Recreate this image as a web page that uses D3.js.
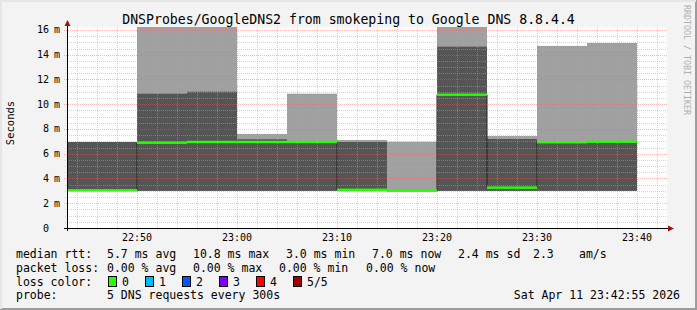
<!DOCTYPE html>
<html>
<head>
<meta charset="utf-8">
<script src="https://cdn.jsdelivr.net/npm/d3@7"></script>
<style>
  body { margin: 0; background: #f3f3f3; }
  text { font-family: "DejaVu Sans Mono", monospace; fill: #000; }
</style>
</head>
<body>
<div id="chart"></div>
<script>

//////////////////////////////////////////////////////////////
//////////////////////////// Data ////////////////////////////
//////////////////////////////////////////////////////////////

// one smokeping step = 5 minutes, 5 pings per step
var stepStarts = ["22:40", "22:45", "22:50", "22:55", "23:00", "23:05",
                  "23:10", "23:15", "23:20", "23:25", "23:30", "23:35"];
// values in ms
var minRtt    = [3.00, 3.00, 3.00, 3.00, 3.00, 3.00, 3.00, 3.00, 3.00, 3.00, 3.00, 3.00];
var innerTop  = [6.95, 6.95, 10.85, 11.01, 7.17, 6.93, 6.95, 3.03, 14.65, 7.19, 6.92, 6.97];
var maxRtt    = [6.95, 6.95, 18.00, 18.50, 7.60, 10.85, 7.11, 6.97, 17.00, 7.43, 14.71, 14.95];
var medianRtt = [3.05, 3.05, 6.89, 6.95, 6.95, 6.95, 3.09, 3.01, 10.77, 3.26, 6.93, 6.97];

var yTickValues = [0, 2, 4, 6, 8, 10, 12, 14, 16];

var lossLabels = ["0", "1", "2", "3", "4", "5/5"];
var lossColors = ["#26ff00", "#00b8ff", "#0059ff", "#7e00ff", "#ff0000", "#a10000"];

var medianStats = ["5.7 ms avg", "10.8 ms max", "3.0 ms min", "7.0 ms now", "2.4 ms sd", "2.3", "am/s"];
var lossStats = ["0.00 % avg", "0.00 % max", "0.00 % min", "0.00 % now"];

var title = "DNSProbes/GoogleDNS2 from smokeping to Google DNS 8.8.4.4";
var probeText = "5 DNS requests every 300s";
var stampText = "Sat Apr 11 23:42:55 2026";

//////////////////////////////////////////////////////////////
/////////////////////////// Setup ////////////////////////////
//////////////////////////////////////////////////////////////

var width = 697, height = 310;
var plot = { left: 67, right: 667, top: 27, bottom: 228 };

var parseTime = d3.timeParse("%H:%M");
var stepMs = 5 * 60 * 1000;

var x = d3.scaleTime()
  .domain([parseTime("22:43"), parseTime("23:43")])
  .range([plot.left, plot.right]);

var y = d3.scaleLinear()
  .domain([0, 16.24])
  .range([plot.bottom, plot.top]);

var steps = stepStarts.map(function(s, i) {
  var t = parseTime(s);
  return { t0: t, t1: new Date(+t + stepMs), lo: minRtt[i], mid: innerTop[i], hi: maxRtt[i], med: medianRtt[i] };
});

var svg = d3.select("#chart").append("svg")
  .attr("width", width)
  .attr("height", height);

//frame
svg.append("rect").attr("width", width).attr("height", height).style("fill", "#f3f3f3");
svg.append("path").attr("d", "M0,309 H697 M696,0 V310").style("stroke", "#9c9c9c").style("stroke-width", 2).style("fill", "none");
svg.append("path").attr("d", "M0,1 H696 M1,0 V309").style("stroke", "#e6e6e6").style("stroke-width", 2).style("fill", "none");

//canvas
svg.append("rect")
  .attr("x", plot.left).attr("y", plot.top)
  .attr("width", plot.right - plot.left).attr("height", plot.bottom - plot.top)
  .style("fill", "#fff");

svg.append("defs").append("clipPath").attr("id", "plot-clip")
  .append("rect")
  .attr("x", plot.left).attr("y", plot.top)
  .attr("width", plot.right - plot.left).attr("height", plot.bottom - plot.top);

var g = svg.append("g").attr("clip-path", "url(#plot-clip)");

//////////////////////////////////////////////////////////////
/////////////////////////// Smoke ////////////////////////////
//////////////////////////////////////////////////////////////

g.selectAll(".smoke-outer")
  .data(steps)
  .enter().append("rect")
  .attr("class", "smoke-outer")
  .attr("x", function(d) { return x(d.t0); })
  .attr("width", function(d) { return x(d.t1) - x(d.t0); })
  .attr("y", function(d) { return y(d.hi); })
  .attr("height", function(d) { return y(d.lo) - y(d.hi); })
  .style("fill", "#a0a0a0");

g.selectAll(".smoke-inner")
  .data(steps)
  .enter().append("rect")
  .attr("class", "smoke-inner")
  .attr("x", function(d) { return x(d.t0); })
  .attr("width", function(d) { return x(d.t1) - x(d.t0); })
  .attr("y", function(d) { return y(d.mid); })
  .attr("height", function(d) { return y(d.lo) - y(d.mid); })
  .style("fill", "#555555");

//////////////////////////////////////////////////////////////
/////////////////////////// Grid /////////////////////////////
//////////////////////////////////////////////////////////////

var xMajor = x.ticks(d3.timeMinute.every(10));
var xMinor = x.ticks(d3.timeMinute.every(2)).filter(function(d) { return d.getMinutes() % 10 !== 0; });
var yMinor = d3.range(0.5, 16.1, 0.5).filter(function(d) { return d % 2 !== 0; });
var yMajor = yTickValues.filter(function(d) { return d > 0; });

var minorGrid = "rgba(170,170,170,0.5)";
var majorGrid = "rgba(255,90,90,0.42)";

svg.selectAll(".grid-x-minor")
  .data(xMinor)
  .enter().append("line")
  .attr("class", "grid-x-minor")
  .attr("x1", function(d) { return Math.round(x(d)) + 0.5; })
  .attr("x2", function(d) { return Math.round(x(d)) + 0.5; })
  .attr("y1", plot.top).attr("y2", plot.bottom + 2)
  .style("stroke", minorGrid)
  .style("stroke-dasharray", "1,1");

svg.selectAll(".grid-y-minor")
  .data(yMinor)
  .enter().append("line")
  .attr("class", "grid-y-minor")
  .attr("x1", plot.left - 2).attr("x2", plot.right)
  .attr("y1", function(d) { return Math.round(y(d)) + 0.5; })
  .attr("y2", function(d) { return Math.round(y(d)) + 0.5; })
  .style("stroke", minorGrid)
  .style("stroke-dasharray", "1,1");

svg.selectAll(".grid-x-major")
  .data(xMajor)
  .enter().append("line")
  .attr("class", "grid-x-major")
  .attr("x1", function(d) { return Math.round(x(d)) + 0.5; })
  .attr("x2", function(d) { return Math.round(x(d)) + 0.5; })
  .attr("y1", plot.top).attr("y2", plot.bottom + 3)
  .style("stroke", majorGrid)
  .style("stroke-dasharray", "1,1");

svg.selectAll(".grid-y-major")
  .data(yMajor)
  .enter().append("line")
  .attr("class", "grid-y-major")
  .attr("x1", plot.left - 3).attr("x2", plot.right)
  .attr("y1", function(d) { return Math.round(y(d)) + 0.5; })
  .attr("y2", function(d) { return Math.round(y(d)) + 0.5; })
  .style("stroke", majorGrid)
  .style("stroke-dasharray", "1,1");

//////////////////////////////////////////////////////////////
////////////////////////// Median ////////////////////////////
//////////////////////////////////////////////////////////////

var medianPoints = steps.map(function(d) { return [d.t0, d.med]; });
medianPoints.push([steps[steps.length - 1].t1, steps[steps.length - 1].med]);

g.append("path")
  .datum(medianPoints)
  .attr("d", d3.line()
    .x(function(d) { return x(d[0]); })
    .y(function(d) { return y(d[1]); })
    .curve(d3.curveStepAfter))
  .style("fill", "none")
  .style("stroke", "#202020")
  .style("stroke-width", 1);

g.selectAll(".median-band")
  .data(steps)
  .enter().append("rect")
  .attr("class", "median-band")
  .attr("x", function(d) { return x(d.t0); })
  .attr("width", function(d) { return x(d.t1) - x(d.t0); })
  .attr("y", function(d) { return y(d.med) - 1.2; })
  .attr("height", 2.4)
  .style("fill", lossColors[0]);

//////////////////////////////////////////////////////////////
/////////////////////////// Axes /////////////////////////////
//////////////////////////////////////////////////////////////

svg.append("line")
  .attr("x1", plot.left - 3).attr("x2", plot.right + 2)
  .attr("y1", plot.bottom + 0.5).attr("y2", plot.bottom + 0.5)
  .style("stroke", "#000");

svg.append("line")
  .attr("x1", plot.left + 0.5).attr("x2", plot.left + 0.5)
  .attr("y1", plot.bottom + 3).attr("y2", plot.top - 2)
  .style("stroke", "#000");

//arrows
svg.append("path")
  .attr("d", "M" + (plot.left - 2.5) + "," + (plot.top - 1) + " L" + (plot.left + 0.5) + "," + (plot.top - 7) +
             " L" + (plot.left + 3.5) + "," + (plot.top - 1) + "Z")
  .style("fill", "#a11212");
svg.append("path")
  .attr("d", "M" + (plot.right + 1) + "," + (plot.bottom - 2.5) + " L" + (plot.right + 7) + "," + (plot.bottom + 0.5) +
             " L" + (plot.right + 1) + "," + (plot.bottom + 3.5) + "Z")
  .style("fill", "#a11212");

svg.selectAll(".x-label")
  .data(xMajor)
  .enter().append("text")
  .attr("class", "x-label")
  .attr("x", function(d) { return x(d); })
  .attr("y", 241)
  .style("font-size", "10px")
  .style("text-anchor", "middle")
  .text(d3.timeFormat("%H:%M"));

var yLabels = svg.selectAll(".y-label")
  .data(yTickValues)
  .enter().append("g")
  .attr("class", "y-label")
  .attr("transform", function(d) { return "translate(0," + y(d) + ")"; });

yLabels.append("text")
  .attr("x", 49)
  .attr("dy", "0.35em")
  .style("font-size", "10px")
  .style("text-anchor", "end")
  .text(function(d) { return d; });

yLabels.filter(function(d) { return d > 0; }).append("text")
  .attr("x", 54)
  .attr("dy", "0.35em")
  .style("font-size", "10px")
  .text("m");

svg.append("text")
  .attr("transform", "translate(14," + 123 + ") rotate(-90)")
  .style("font-size", "10.5px")
  .style("text-anchor", "middle")
  .text("Seconds");

//title
svg.append("text")
  .attr("x", width / 2)
  .attr("y", 24)
  .style("font-size", "13.2px")
  .style("text-anchor", "middle")
  .text(title);

//rrdtool watermark
svg.append("text")
  .attr("transform", "translate(684,5) rotate(90)")
  .style("font-size", "8.3px")
  .style("fill", "#b0b0b0")
  .text("RRDTOOL / TOBI OETIKER");

//////////////////////////////////////////////////////////////
////////////////////////// Legend ////////////////////////////
//////////////////////////////////////////////////////////////

var legendSize = "11.5px";
var rowY = [258, 272, 286, 299];

function legendText(xPos, yPos, str, anchor) {
  svg.append("text")
    .attr("x", xPos)
    .attr("y", yPos)
    .style("font-size", legendSize)
    .style("text-anchor", anchor || "start")
    .style("white-space", "pre")
    .text(str);
}

legendText(16, rowY[0], "median rtt:");
var medianX = [107, 193, 286, 372, 458, 533, 579];
medianStats.forEach(function(s, i) { legendText(medianX[i], rowY[0], s); });

legendText(16, rowY[1], "packet loss:");
var lossX = [107, 193, 279, 366];
lossStats.forEach(function(s, i) { legendText(lossX[i], rowY[1], s); });

legendText(16, rowY[2], "loss color:");
var swatch = svg.selectAll(".loss-swatch")
  .data(lossLabels)
  .enter().append("g")
  .attr("class", "loss-swatch")
  .attr("transform", function(d, i) { return "translate(" + (108 + i * 37) + ",0)"; });

swatch.append("rect")
  .attr("x", 0.5).attr("y", 276.5)
  .attr("width", 8).attr("height", 10)
  .style("fill", function(d, i) { return lossColors[i]; })
  .style("stroke", "#000");

swatch.append("text")
  .attr("x", 14)
  .attr("y", rowY[2])
  .style("font-size", legendSize)
  .text(function(d) { return d; });

legendText(16, rowY[3], "probe:");
legendText(107, rowY[3], probeText);
legendText(680, rowY[3], stampText, "end");

</script>
</body>
</html>
